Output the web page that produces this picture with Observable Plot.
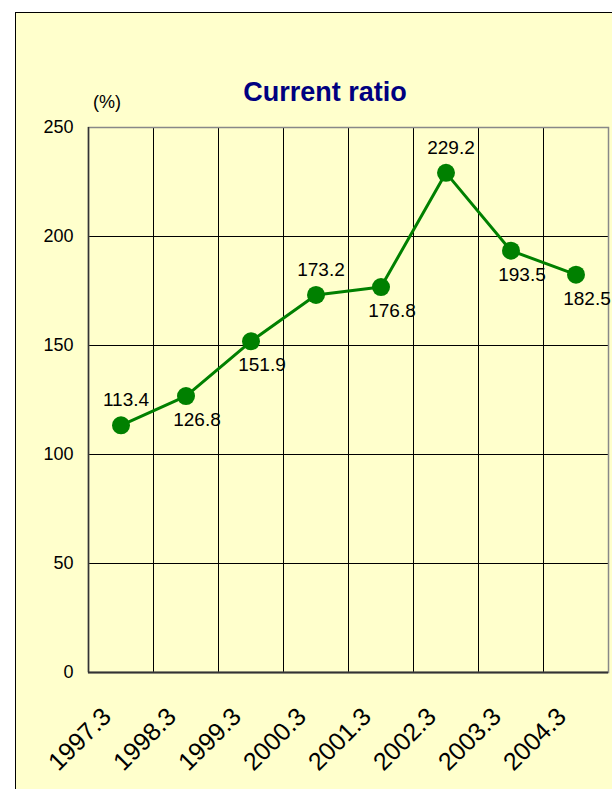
<!DOCTYPE html>
<html>
<head>
<meta charset="utf-8">
<script src="https://cdn.jsdelivr.net/npm/d3@7"></script>
<script src="https://cdn.jsdelivr.net/npm/@observablehq/plot@0.6"></script>
<style>
  html, body { margin: 0; padding: 0; background: #ffffff; }
  #wrap { position: relative; width: 612px; height: 789px; overflow: hidden; background: #ffffff; }
  #panel { position: absolute; left: 15px; top: 12px; width: 700px; height: 900px;
           background: #ffffcc; border: 1.5px solid #000; box-sizing: border-box; }
  #title { position: absolute; left: 0; width: 650px; top: 77px; text-align: center;
           font: bold 27px "Liberation Sans", Arial, sans-serif; color: #000080; }
  #unit { position: absolute; left: 93px; top: 92px; font: 18px "Liberation Sans", Arial, sans-serif; color: #000; }
  #chart { position: absolute; left: 0; top: 0; }
</style>
</head>
<body>
<div id="wrap">
  <div id="panel"></div>
  <div id="title">Current ratio</div>
  <div id="unit">(%)</div>
  <div id="chart"></div>
</div>
<script>
const categories = ["1997.3", "1998.3", "1999.3", "2000.3", "2001.3", "2002.3", "2003.3", "2004.3"];
const values = [113.4, 126.8, 151.9, 173.2, 176.8, 229.2, 193.5, 182.5];
const labelSide = ["above", "below", "below", "above", "below", "above", "below", "below"];
const yTicks = [0, 50, 100, 150, 200, 250];

const data = categories.map((c, i) => ({cat: c, idx: i + 0.5, value: values[i], side: labelSide[i]}));
const bounds = d3.range(0, categories.length + 1);

const green = "#008000";
const font = "'Liberation Sans', Arial, sans-serif";

const chart = Plot.plot({
  width: 612,
  height: 789,
  marginLeft: 88,
  marginRight: 4,
  marginTop: 127,
  marginBottom: 117,
  style: { background: "transparent", fontFamily: font, fontSize: "18px", color: "#000", overflow: "visible" },
  x: { type: "linear", domain: [0, categories.length], axis: null },
  y: { domain: [0, 250], ticks: yTicks, tickSize: 0, tickPadding: 15, label: null },
  marks: [
    Plot.ruleY(yTicks.filter(t => t > 0 && t < 250), { stroke: "#000", strokeWidth: 1, strokeOpacity: 1 }),
    Plot.ruleX(bounds.filter(b => b > 0 && b < categories.length), { stroke: "#000", strokeWidth: 1, strokeOpacity: 1 }),
    Plot.frame({ stroke: "#888", strokeWidth: 1.5 }),
    Plot.ruleX([0], { stroke: "#333", strokeWidth: 1.5 }),
    Plot.ruleY([0], { stroke: "#333", strokeWidth: 2 }),
    Plot.line(data, { x: "idx", y: "value", stroke: green, strokeWidth: 3 }),
    Plot.dot(data, { x: "idx", y: "value", r: 9, fill: green, stroke: "none" }),
    Plot.text(data.filter(d => d.side === "above"), {
      x: "idx", y: "value", text: d => d.value.toFixed(1), dy: -25, dx: 5,
      fill: "#000", fontSize: 19
    }),
    Plot.text(data.filter(d => d.side === "below"), {
      x: "idx", y: "value", text: d => d.value.toFixed(1), dy: 24, dx: 11,
      fill: "#000", fontSize: 19
    }),
    Plot.text(data, {
      x: "idx", text: "cat", frameAnchor: "bottom", dy: 33, dx: -21,
      rotate: -45, textAnchor: "end", lineAnchor: "top", fill: "#000", fontSize: 25
    })
  ]
});
document.getElementById("chart").appendChild(chart);
</script>
</body>
</html>
